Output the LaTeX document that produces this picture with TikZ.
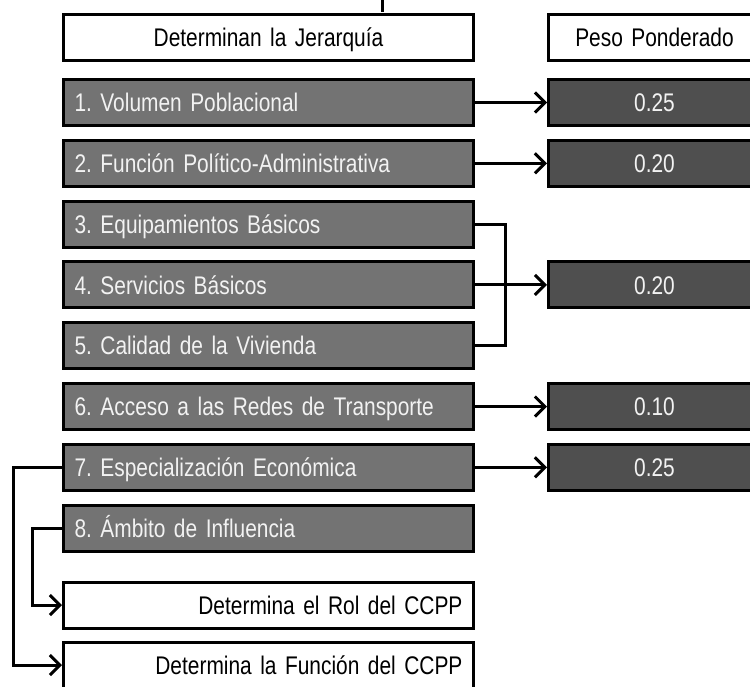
\documentclass[tikz,border=0pt]{standalone}
\usepackage{fontspec}
\setmainfont{Liberation Sans}[FakeStretch=0.82]
\usetikzlibrary{arrows.meta}
\definecolor{lightbox}{HTML}{737373}
\definecolor{darkbox}{HTML}{4F4F4F}
\definecolor{boxtext}{HTML}{F2F2F2}
\frenchspacing
\tikzset{
  base/.style={draw=black, line width=3pt, minimum height=46pt, text height=18.2pt, text depth=0pt, inner xsep=11pt, font=\fontsize{25.5}{29}\selectfont\frenchspacing},
  headbox/.style={base, fill=white, text=black, text width=388pt, align=center},
  rowbox/.style={base, fill=lightbox, text=boxtext, text width=388pt, align=left},
  outbox/.style={base, fill=white, text=black, text width=388pt, align=right},
  wbox/.style={base, fill=white, text=black, text width=190pt, align=center},
  valbox/.style={base, fill=darkbox, text=boxtext, text width=190pt, align=center},
  conn/.style={draw=black, line width=3pt},
  arr/.style={conn, -{Straight Barb[length=10pt,width=20pt]}}
}
\begin{document}
\begin{tikzpicture}[x=1pt,y=-1pt]
\useasboundingbox (0,0) rectangle (750,686);
\fill (380.5,0) rectangle (384,12);
\node[headbox] (h1) at (268.5,37.5) {Determinan la Jerarquía};
\node[wbox] (h2) at (654.5,37.5) {Peso Ponderado};
\node[rowbox] (r1) at (268.5,102.5) {1. Volumen Poblacional};
\node[rowbox] (r2) at (268.5,163.3) {2. Función Político-Administrativa};
\node[rowbox] (r3) at (268.5,224.1) {3. Equipamientos Básicos};
\node[rowbox] (r4) at (268.5,284.9) {4. Servicios Básicos};
\node[rowbox] (r5) at (268.5,345.7) {5. Calidad de la Vivienda};
\node[rowbox] (r6) at (268.5,406.5) {6. Acceso a las Redes de Transporte};
\node[rowbox] (r7) at (268.5,467.3) {7. Especialización Económica};
\node[rowbox] (r8) at (268.5,528.1) {8. Ámbito de Influencia};
\node[outbox] (rol) at (268.5,605) {Determina el Rol del CCPP};
\node[outbox] (fun) at (268.5,665) {Determina la Función del CCPP};
\node[valbox] (v1) at (654.5,102.5) {0.25};
\node[valbox] (v2) at (654.5,163.3) {0.20};
\node[valbox] (v4) at (654.5,284.9) {0.20};
\node[valbox] (v6) at (654.5,406.5) {0.10};
\node[valbox] (v7) at (654.5,467.3) {0.25};
\draw[arr] (r1.east) -- (v1.west);
\draw[arr] (r2.east) -- (v2.west);
\draw[conn] (r3.east) -- ++(30,0) |- (r5.east);
\draw[arr] (r4.east) -- (v4.west);
\draw[arr] (r6.east) -- (v6.west);
\draw[arr] (r7.east) -- (v7.west);
\draw[arr] (r7.west) -- ++(-49,0) |- (fun.west);
\draw[arr] (r8.west) -- ++(-30,0) |- (rol.west);
\end{tikzpicture}
\end{document}
